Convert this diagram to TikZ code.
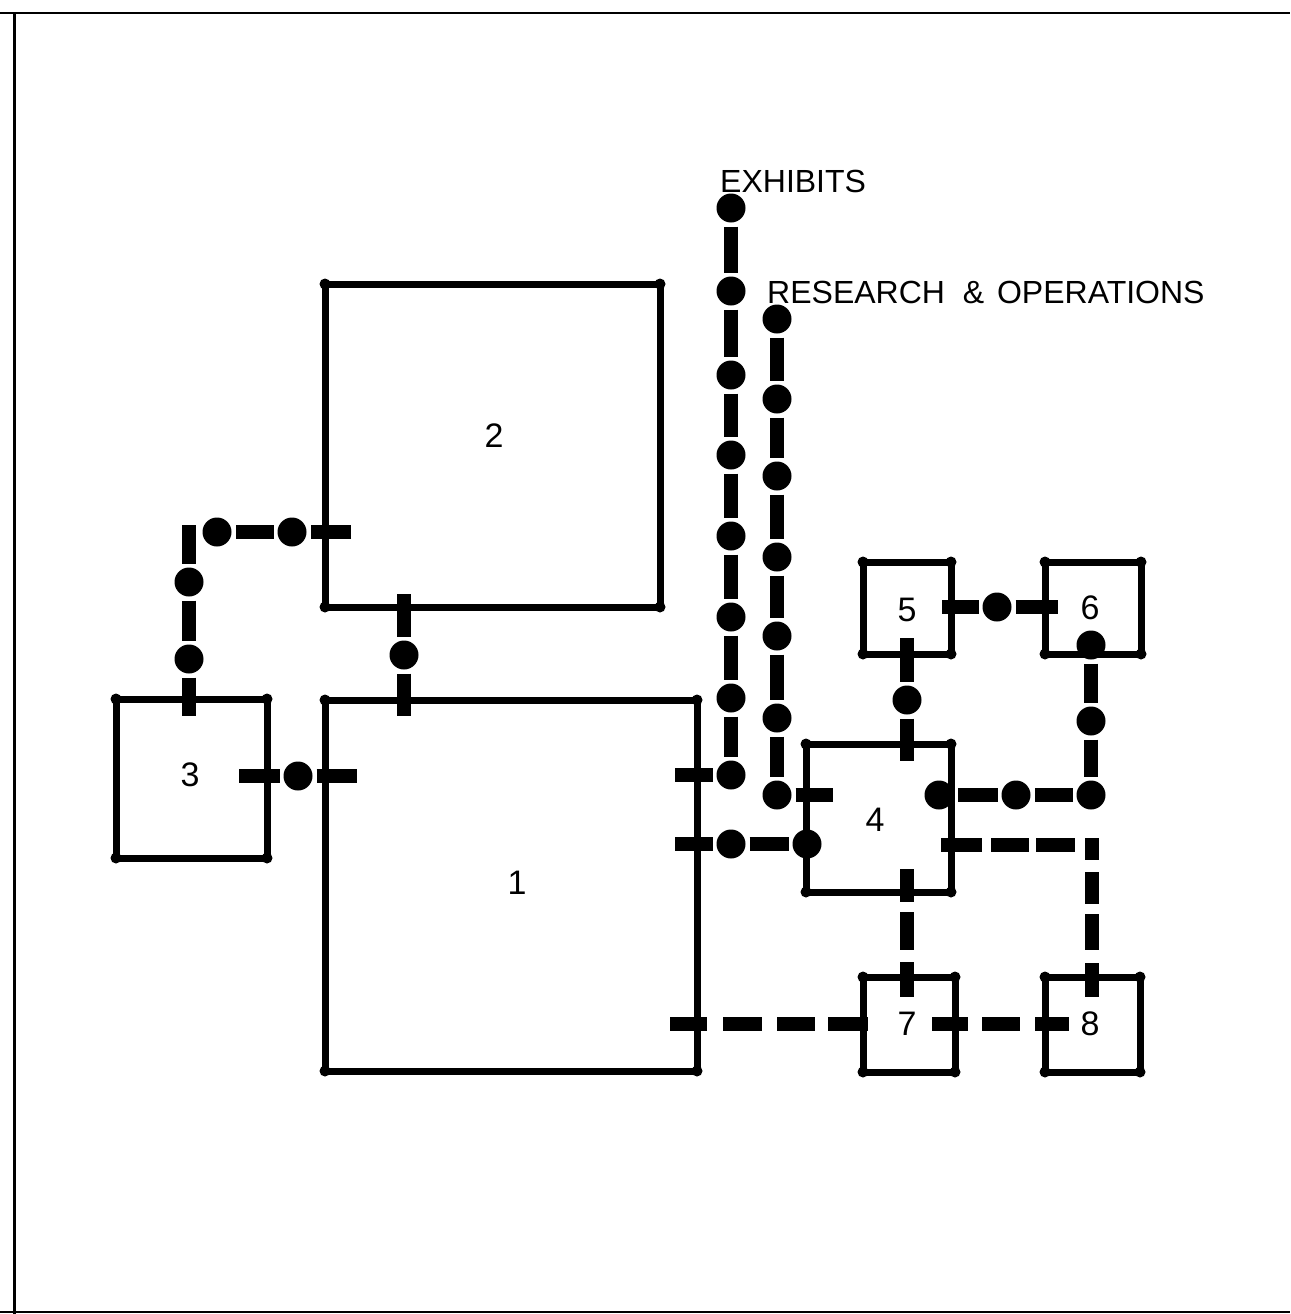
\documentclass[tikz,border=0pt]{standalone}
\usepackage{fontspec}
\setmainfont{Liberation Sans}
\usepackage{xcolor}

\begin{document}
\begin{tikzpicture}[x=1pt,y=-1pt,every node/.style={font=\fontsize{32}{38}\selectfont},
  room/.style={draw,line width=7pt,inner sep=0pt,outer sep=0pt},
  numeral/.style={font=\fontsize{34}{38}\selectfont},
  spot/.style={circle,fill=black,minimum size=29pt,inner sep=0pt,outer sep=4pt},
  bar/.style={line width=14pt}]
  \useasboundingbox (0,0) rectangle (1290,1314);
  % sheet edge
  \draw[line width=2pt] (0,13)--(1290,13) (0,1312)--(1290,1312);
  \draw[line width=3pt] (14,13)--(14,1314);
  % rooms
  \node[room,minimum width=372pt,minimum height=371pt] (r1) at (511,885.5) {};
  \node[room,minimum width=335pt,minimum height=323pt] (r2) at (492.5,445.5) {};
  \node[room,minimum width=151pt,minimum height=159pt] (r3) at (191.5,778.5) {};
  \node[room,minimum width=145pt,minimum height=148pt] (r4) at (878.5,818) {};
  \node[room,minimum width=88pt,minimum height=92pt] (r5) at (907,608) {};
  \node[room,minimum width=96pt,minimum height=92pt] (r6) at (1093,608) {};
  \node[room,minimum width=92pt,minimum height=95pt] (r7) at (909,1024.5) {};
  \node[room,minimum width=95pt,minimum height=95pt] (r8) at (1092.5,1024.5) {};
  \foreach \r in {r1,r2,r3,r4,r5,r6,r7,r8}
    \foreach \c in {north west,north east,south west,south east}
      \fill (\r.\c) circle (5.5pt);
  \node[numeral] (n1) at (517,883) {1}; \node[numeral] (n2) at (494,436) {2}; \node[numeral] (n3) at (190,775) {3};
  \node[numeral] (n4) at (875,820) {4}; \node[numeral] (n5) at (907,610) {5}; \node[numeral] (n6) at (1090,608) {6};
  \node[numeral] (n7) at (907,1024) {7}; \node[numeral] (n8) at (1090,1024) {8};
  \node[anchor=west,inner sep=0pt] (exhibits) at (720,181) {EXHIBITS};
  \node[anchor=west,inner sep=0pt] (research) at (767,292) {RESEARCH\hspace{9pt} \&\hspace{4pt} OPERATIONS};
  % exhibits route
  \node[spot] (e1) at (731,208) {}; \node[spot] (e2) at (731,291) {};
  \node[spot] (e3) at (731,375) {}; \node[spot] (e4) at (731,455) {};
  \node[spot] (e5) at (731,536) {}; \node[spot] (e6) at (731,617) {};
  \node[spot] (e7) at (731,698) {}; \node[spot] (e8) at (731,775) {};
  \coordinate (e9) at (675,775);
  \draw[bar] (e1)--(e2); \draw[bar] (e2)--(e3); \draw[bar] (e3)--(e4); \draw[bar] (e4)--(e5);
  \draw[bar] (e5)--(e6); \draw[bar] (e6)--(e7); \draw[bar] (e7)--(e8); \draw[bar] (e8)--(e9);
  % research route
  \node[spot] (o1) at (777,319) {}; \node[spot] (o2) at (777,399) {};
  \node[spot] (o3) at (777,476) {}; \node[spot] (o4) at (777,557) {};
  \node[spot] (o5) at (777,636) {}; \node[spot] (o6) at (777,718) {};
  \node[spot] (o7) at (777,795) {};
  \coordinate (o8) at (833,795);
  \draw[bar] (o1)--(o2); \draw[bar] (o2)--(o3); \draw[bar] (o3)--(o4); \draw[bar] (o4)--(o5);
  \draw[bar] (o5)--(o6); \draw[bar] (o6)--(o7); \draw[bar] (o7)--(o8);
  % rooms 2, 3 and 1
  \coordinate (a1) at (351,532); \coordinate (a2) at (189,525);
  \node[spot] (a3) at (292,532) {}; \node[spot] (a4) at (217,532) {};
  \node[spot] (a5) at (189,582) {}; \node[spot] (a6) at (189,659) {};
  \coordinate (a7) at (189,716);
  \draw[bar] (a1)--(a3); \draw[bar] (a3)--(a4); \draw[bar] (a2)--(a5);
  \draw[bar] (a5)--(a6); \draw[bar] (a6)--(a7);
  \coordinate (b1) at (404,594); \coordinate (b2) at (404,716);
  \node[spot] (b3) at (404,655) {};
  \draw[bar] (b1)--(b3); \draw[bar] (b3)--(b2);
  \coordinate (c1) at (239,776); \coordinate (c2) at (357,776);
  \node[spot] (c3) at (298,776) {};
  \draw[bar] (c1)--(c3); \draw[bar] (c3)--(c2);
  % rooms 1 and 4
  \coordinate (d1) at (675,844);
  \node[spot] (d2) at (731,844) {}; \node[spot] (d3) at (807,844) {};
  \draw[bar] (d1)--(d2); \draw[bar] (d2)--(d3);
  % rooms 4, 5 and 6
  \coordinate (f1) at (907,638); \coordinate (f2) at (907,761);
  \node[spot] (f3) at (907,700) {};
  \draw[bar] (f1)--(f3); \draw[bar] (f3)--(f2);
  \coordinate (g1) at (942,607); \coordinate (g2) at (1058,607);
  \node[spot] (g3) at (997,607) {};
  \draw[bar] (g1)--(g3); \draw[bar] (g3)--(g2);
  \node[spot] (h1) at (1091,645) {}; \node[spot] (h2) at (1091,721) {};
  \node[spot] (h3) at (1091,795) {}; \node[spot] (h4) at (1016,795) {};
  \node[spot] (h5) at (939,795) {};
  \draw[bar] (h1)--(h2); \draw[bar] (h2)--(h3); \draw[bar] (h3)--(h4); \draw[bar] (h4)--(h5);
  % rooms 4 and 8, dashed
  \coordinate (k1) at (941,845); \coordinate (k2) at (982,845);
  \coordinate (k3) at (991,845); \coordinate (k4) at (1029,845);
  \coordinate (k5) at (1036,845); \coordinate (k6) at (1075,845);
  \coordinate (k7) at (1092,838); \coordinate (k8) at (1092,860);
  \coordinate (k9) at (1092,872); \coordinate (k10) at (1092,904);
  \coordinate (k11) at (1092,914); \coordinate (k12) at (1092,950);
  \coordinate (k13) at (1092,963); \coordinate (k14) at (1092,997);
  \draw[bar] (k1)--(k2); \draw[bar] (k3)--(k4); \draw[bar] (k5)--(k6); \draw[bar] (k7)--(k8);
  \draw[bar] (k9)--(k10); \draw[bar] (k11)--(k12); \draw[bar] (k13)--(k14);
  % rooms 4 and 7, dashed
  \coordinate (m1) at (907,869); \coordinate (m2) at (907,902);
  \coordinate (m3) at (907,912); \coordinate (m4) at (907,950);
  \coordinate (m5) at (907,962); \coordinate (m6) at (907,997);
  \draw[bar] (m1)--(m2); \draw[bar] (m3)--(m4); \draw[bar] (m5)--(m6);
  % rooms 1, 7 and 8, dashed
  \coordinate (p1) at (670,1024); \coordinate (p2) at (707,1024);
  \coordinate (p3) at (723,1024); \coordinate (p4) at (762,1024);
  \coordinate (p5) at (777,1024); \coordinate (p6) at (815,1024);
  \coordinate (p7) at (828,1024); \coordinate (p8) at (868,1024);
  \coordinate (p9) at (932,1024); \coordinate (p10) at (968,1024);
  \coordinate (p11) at (982,1024); \coordinate (p12) at (1020,1024);
  \coordinate (p13) at (1035,1024); \coordinate (p14) at (1069,1024);
  \draw[bar] (p1)--(p2); \draw[bar] (p3)--(p4); \draw[bar] (p5)--(p6); \draw[bar] (p7)--(p8);
  \draw[bar] (p9)--(p10); \draw[bar] (p11)--(p12); \draw[bar] (p13)--(p14);
\end{tikzpicture}
\end{document}
